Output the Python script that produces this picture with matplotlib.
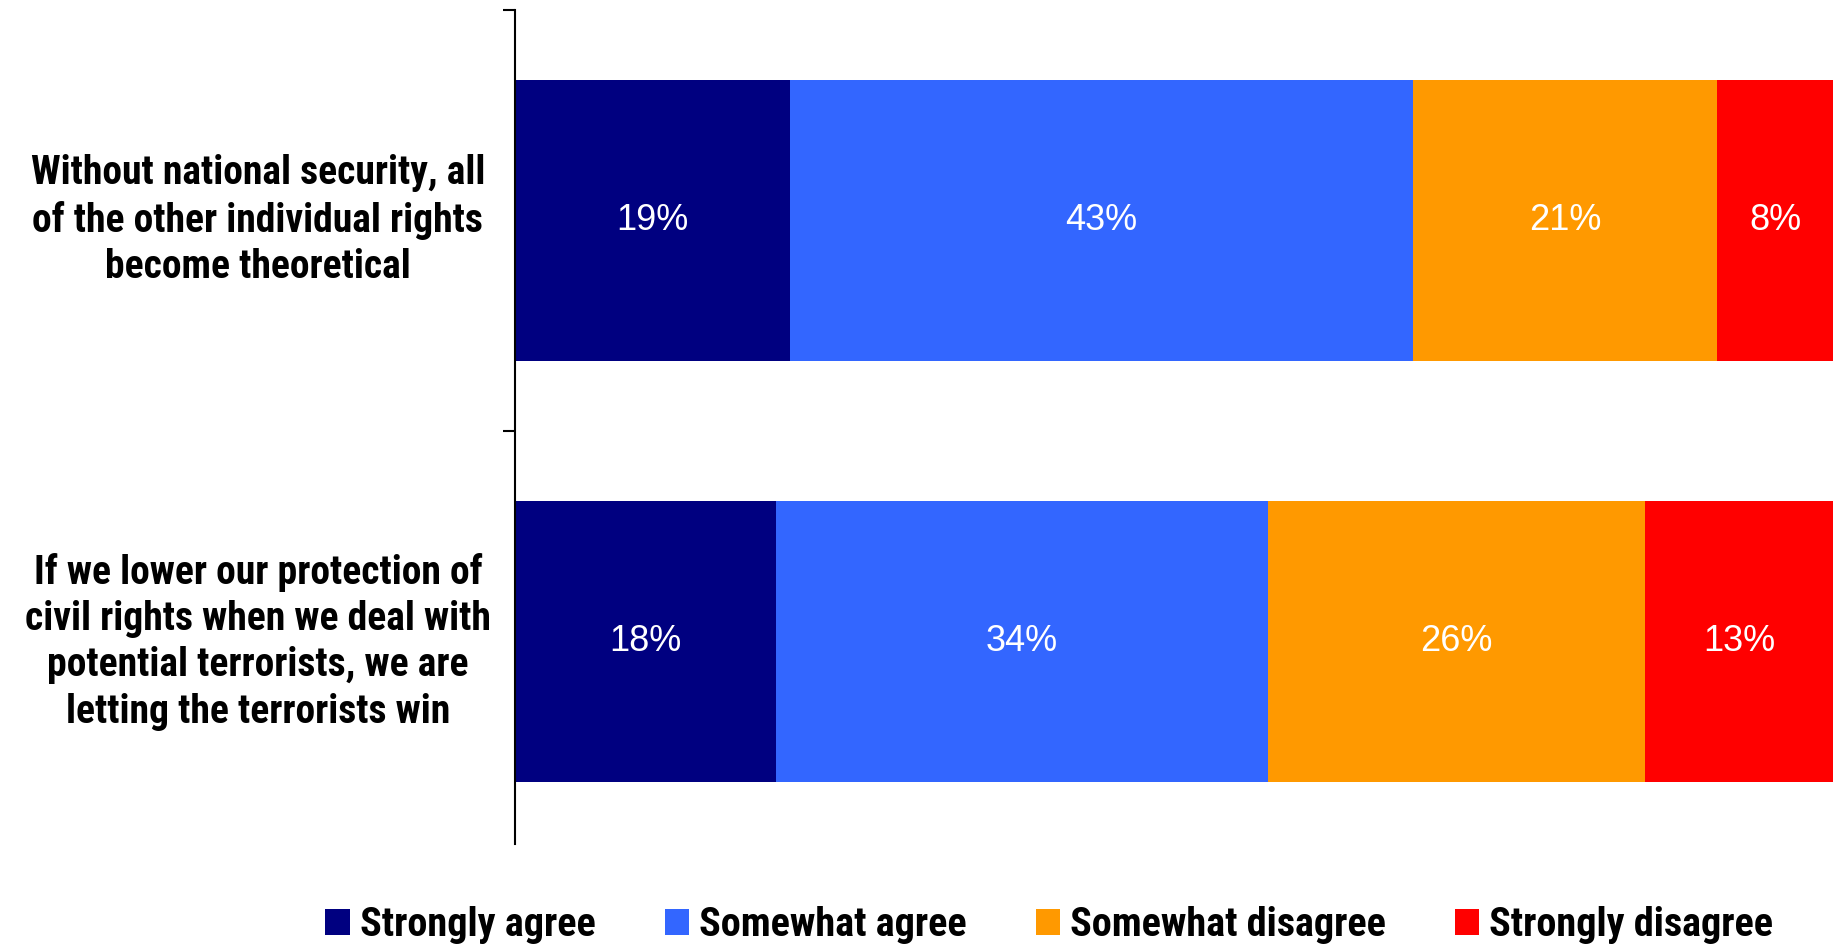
import matplotlib
matplotlib.use("Agg")
import matplotlib.pyplot as plt
import numpy as np

categories = [
    "Without national security, all\nof the other individual rights\nbecome theoretical",
    "If we lower our protection of\ncivil rights when we deal with\npotential terrorists, we are\nletting the terrorists win",
]
series_names = ["Strongly agree", "Somewhat agree", "Somewhat disagree", "Strongly disagree"]
strongly_agree = [19, 18]
somewhat_agree = [43, 34]
somewhat_disagree = [21, 26]
strongly_disagree = [8, 13]
colors = ["#000080", "#3366FF", "#FF9900", "#FF0000"]

series = [strongly_agree, somewhat_agree, somewhat_disagree, strongly_disagree]

bold_font = ["Roboto Condensed", "PT Sans Narrow", "DejaVu Sans"]
label_font = ["Liberation Sans", "DejaVu Sans"]

fig = plt.figure(figsize=(18.41, 9.47), dpi=100)
ax = fig.add_axes([0.2797, 0.1088, 0.716, 0.881])

y = np.arange(len(categories))
left = np.zeros(len(categories))
for name, vals, col in zip(series_names, series, colors):
    vals = np.array(vals, dtype=float)
    ax.barh(y, vals, left=left, height=0.667, color=col, label=name)
    for yi, l, v in zip(y, left, vals):
        ax.text(l + v / 2, yi, f"{int(v)}%", ha="center", va="center",
                color="white", fontsize=26, family=label_font)
    left += vals

ax.set_xlim(0, left.max())
ax.set_ylim(1.48, -0.5)

for s in ["top", "right", "bottom"]:
    ax.spines[s].set_visible(False)
ax.spines["left"].set_linewidth(1.5)
ax.set_xticks([])
ax.set_yticks([-0.5, 0.5])
ax.set_yticklabels([])
ax.tick_params(axis="y", direction="out", length=9, width=1.5, color="black")

trans = ax.get_yaxis_transform()
for yi, lab in zip(y, categories):
    ax.text(-0.195, yi, lab, transform=trans, ha="center", va="center",
            multialignment="center", fontsize=28.5, fontweight="bold",
            family=bold_font, linespacing=1.28)

fig.legend(loc="center", bbox_to_anchor=(0.570, 0.023), ncol=4, frameon=False,
           prop={"family": bold_font, "weight": "bold", "size": 29},
           handlelength=0.6, handleheight=0.6, handletextpad=0.25,
           columnspacing=1.72, borderaxespad=0, borderpad=0)

fig.savefig("out.png", dpi=100)
